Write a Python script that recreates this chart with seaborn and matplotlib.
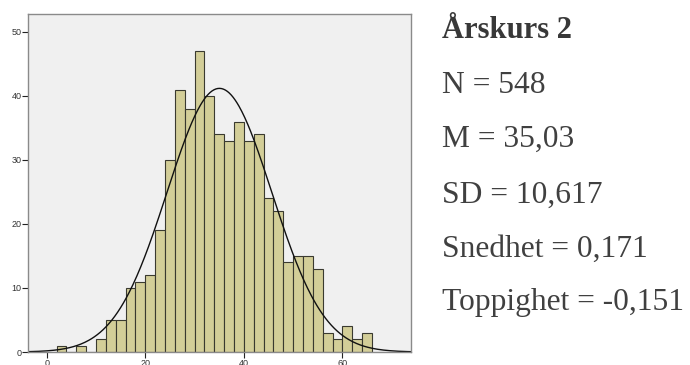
import numpy as np
import pandas as pd
import matplotlib
matplotlib.use("Agg")
import matplotlib.pyplot as plt
import seaborn as sns

# Histogram bins (width 2) and counts per bin
bin_starts = [2, 4, 6, 8, 10, 12, 14, 16, 18, 20, 22, 24, 26, 28, 30, 32, 34,
              36, 38, 40, 42, 44, 46, 48, 50, 52, 54, 56, 58, 60, 62, 64]
counts = [1, 0, 1, 0, 2, 5, 5, 10, 11, 12, 19, 30, 41, 38, 47, 40, 34,
          33, 36, 33, 34, 24, 22, 14, 15, 15, 13, 3, 2, 4, 2, 3]
bin_width = 2

# Summary statistics
title = "Årskurs 2"
n_obs = 548
mean = 35.03
sd = 10.617
skew = 0.171
kurt = -0.151

x_ticks = [0, 20, 40, 60]
y_ticks = [0, 10, 20, 30, 40, 50]

sns.set_theme(style="white")

fig = plt.figure(figsize=(6.9, 3.65), dpi=100)
ax = fig.add_axes([28 / 690, 13 / 365, (411 - 28) / 690, (352 - 14) / 365])
ax.set_facecolor("#f0f0f0")

df = pd.DataFrame({"center": np.array(bin_starts) + bin_width / 2, "count": counts})
edges = list(bin_starts) + [bin_starts[-1] + bin_width]
sns.histplot(data=df, x="center", weights="count", bins=edges, ax=ax,
             color="#d3ce98", alpha=1, edgecolor="#3a3a30", linewidth=0.8)

# Fitted normal curve scaled to counts per bin
xs = np.linspace(-4, 74, 400)
pdf = np.exp(-0.5 * ((xs - mean) / sd) ** 2) / (sd * np.sqrt(2 * np.pi))
sns.lineplot(x=xs, y=n_obs * bin_width * pdf, ax=ax, color="#111111", linewidth=1.0)

ax.set_xlim(-3.8, 73.9)
ax.set_ylim(0, 52.8)
ax.set_xticks(x_ticks)
ax.set_yticks(y_ticks)
ax.set_xlabel("")
ax.set_ylabel("")
ax.tick_params(axis="both", which="both", direction="out", length=4.3, width=0.8,
               color="#222222", labelsize=6.5, labelcolor="#333333", pad=0.5,
               bottom=True, left=True)
for lab in ax.get_xticklabels() + ax.get_yticklabels():
    lab.set_family(["Liberation Sans", "DejaVu Sans"])
for s in ax.spines.values():
    s.set_color("#8a8a8a")
    s.set_linewidth(1.0)

serif = ["Liberation Serif", "DejaVu Serif"]
tc = "#404040"
fig.text(442 / 690, 1 - 38 / 365, title, family=serif, fontsize=22, fontweight="bold",
         color="#383838", va="baseline", ha="left")
lines = [
    f"N = {n_obs}",
    f"M = {mean:.2f}".replace(".", ","),
    f"SD = {sd:.3f}".replace(".", ","),
    f"Snedhet = {skew:.3f}".replace(".", ","),
    f"Toppighet = {kurt:.3f}".replace(".", ","),
]
baselines = [93, 147, 203, 257, 310]
for txt, yb in zip(lines, baselines):
    fig.text(442 / 690, 1 - yb / 365, txt, family=serif, fontsize=22.7,
             color=tc, va="baseline", ha="left")

fig.savefig("out.png", dpi=100)
